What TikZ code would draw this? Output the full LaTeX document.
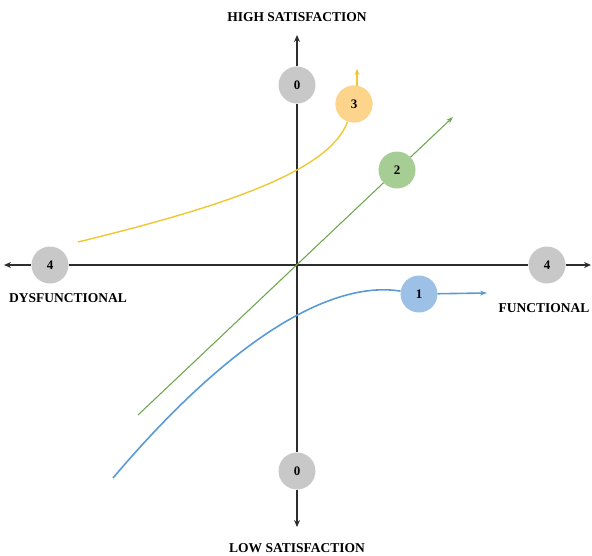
\documentclass[tikz,border=0pt]{standalone}
\usepackage{fontspec}
\setmainfont{Liberation Serif}
\usepackage{tikz}
\usetikzlibrary{arrows.meta}
\definecolor{axisclr}{RGB}{45, 45, 45}
\definecolor{dotgray}{RGB}{200, 200, 200}
\definecolor{dotyellow}{RGB}{252, 212, 140}
\definecolor{dotgreen}{RGB}{166, 205, 148}
\definecolor{dotblue}{RGB}{157, 192, 230}
\definecolor{lineyellow}{RGB}{238, 200, 50}
\definecolor{linegreen}{RGB}{112, 168, 80}
\definecolor{lineblue}{RGB}{90, 155, 213}
\tikzset{
  % O'qlar
  axisline/.style  = {line width=1.5pt, draw=axisclr},
  axisarrow/.style = {-{Stealth[length=7pt,width=6pt]}, line width=1.5pt, draw=axisclr},
  % Egri chiziqlar
  curveY/.style    = {line width=1.4pt, draw=lineyellow},
  curveG/.style    = {line width=1.1pt, draw=linegreen},
  curveB/.style    = {line width=1.6pt, draw=lineblue},
  % Doirachalar
  dot/.style       = {circle, minimum size=37pt, inner sep=0pt, font=\bfseries\fontsize{13}{14}\selectfont},
  dotG/.style      = {dot, fill=dotgray},
  dotY/.style      = {dot, fill=dotyellow},
  dotGr/.style     = {dot, fill=dotgreen},
  dotB/.style      = {dot, fill=dotblue},
  % Yozuvlar
  lab/.style       = {font=\bfseries\fontsize{13.5}{15}\selectfont, inner sep=1pt},
}
\begin{document}
\begin{tikzpicture}[x=1pt, y=-1pt]
  \useasboundingbox (0,0) rectangle (592,555);
  % o'q uchlari
  \coordinate (xl) at (4,265);
  \coordinate (xr) at (591,265);
  \coordinate (yt) at (297,35);
  \coordinate (yb) at (297,527);
  % doirachalar
  \node[dotG] (top) at (297,85) {0};
  \node[dotG] (bot) at (297,471) {0};
  \node[dotG] (left) at (50,265) {4};
  \node[dotG] (right) at (547,265) {4};
  % o'qlar
  \draw[axisarrow] (left) -- (xl);
  \draw[axisline] (left) -- (right);
  \draw[axisarrow] (right) -- (xr);
  \draw[axisarrow] (top) -- (yt);
  \draw[axisline] (top) -- (bot);
  \draw[axisarrow] (bot) -- (yb);
  % egri chiziqlar
  \node[dotY] (three) at (354,104) {3};
  \node[dotGr] (two) at (397,170) {2};
  \node[dotB] (one) at (419,294) {1};
  \coordinate (y0) at (78,242);
  \coordinate (y1) at (357,69);
  \coordinate (g0) at (138,415);
  \coordinate (g1) at (453,117);
  \coordinate (b0) at (113,478);
  \coordinate (b1) at (487,293);
  \draw[curveY] (y0) .. controls (230,205) and (330,170) .. (three);
  \draw[curveY, -{Stealth[length=6pt,width=5pt]}] (357,87) -- (y1);
  \draw[curveG] (g0) -- (two);
  \draw[curveG, -{Stealth[length=7pt,width=5pt]}] (two) -- (g1);
  \draw[curveB] (b0) .. controls (230,340) and (330,280) .. (one);
  \draw[curveB, -{Stealth[length=7pt,width=5pt]}] (one) -- (b1);
  \node[dotY] at (three) {3};
  % yozuvlar
  \node[lab] (hs) at (297,17) {HIGH SATISFACTION};
  \node[lab] (ls) at (297,548) {LOW SATISFACTION};
  \node[lab] (df) at (68,298) {DYSFUNCTIONAL};
  \node[lab] (fn) at (544,308) {FUNCTIONAL};
\end{tikzpicture}
\end{document}
